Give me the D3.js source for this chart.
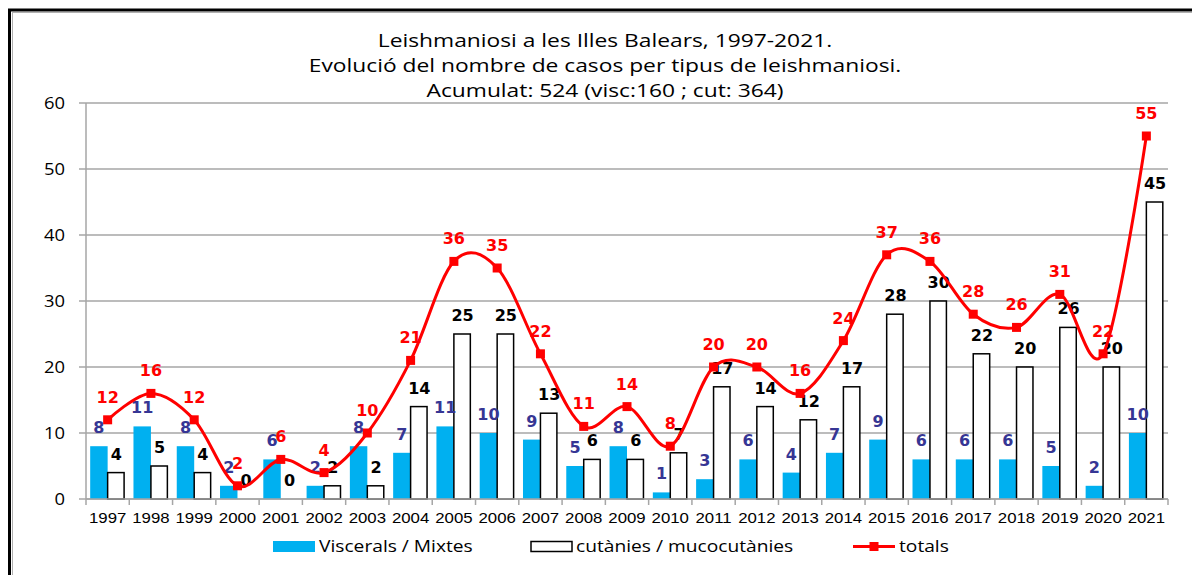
<!DOCTYPE html>
<html lang="ca">
<head>
  <meta charset="UTF-8">
  <title>Leishmaniosi a les Illes Balears, 1997-2021</title>
  <style>
    body {
      margin: 0;
      background-color: white;
      overflow: hidden;
    }

    .title {
      font-family: "Open Sans", sans-serif;
      font-size: 19px;
      fill: #000;
    }

    .ytick {
      font-family: "Open Sans", sans-serif;
      font-size: 16px;
      fill: #000;
    }

    .xtick {
      font-family: "Liberation Sans", Arial, sans-serif;
      font-size: 15px;
      fill: #000;
    }

    .val {
      font-family: "DejaVu Sans", Verdana, sans-serif;
      font-size: 16px;
      font-weight: bold;
    }

    .legend-text {
      font-family: "Open Sans", sans-serif;
      font-size: 16px;
      fill: #000;
    }
  </style>
</head>
<body>
  <script src="https://d3js.org/d3.v7.min.js"></script>
  <script>
    const width = 1192;
    const height = 575;

    // data
    const years = [1997, 1998, 1999, 2000, 2001, 2002, 2003, 2004, 2005, 2006, 2007, 2008, 2009,
                   2010, 2011, 2012, 2013, 2014, 2015, 2016, 2017, 2018, 2019, 2020, 2021];
    const viscerals = [8, 11, 8, 2, 6, 2, 8, 7, 11, 10, 9, 5, 8, 1, 3, 6, 4, 7, 9, 6, 6, 6, 5, 2, 10];
    const cutanies = [4, 5, 4, 0, 0, 2, 2, 14, 25, 25, 13, 6, 6, 7, 17, 14, 12, 17, 28, 30, 22, 20, 26, 20, 45];
    const totals = [12, 16, 12, 2, 6, 4, 10, 21, 36, 35, 22, 11, 14, 8, 20, 20, 16, 24, 37, 36, 28, 26, 31, 22, 55];
    const yTicks = [0, 10, 20, 30, 40, 50, 60];
    const titleLines = [
      "Leishmaniosi a les Illes Balears, 1997-2021.",
      "Evolució del nombre de casos per tipus de leishmaniosi.",
      "Acumulat: 524 (visc:160 ; cut: 364)"
    ];
    const legendItems = ["Viscerals / Mixtes", "cutànies / mucocutànies", "totals"];

    const blue = "#00b0f0";
    const red = "#ff0000";
    const viscColor = "#363694";
    const gridColor = "#a6a6a6";

    const plot = { left: 86, right: 1168, top: 103, bottom: 499 };

    // the original picture is a bit stretched sideways, so the texts are too
    function stretched(x, y, sx) {
      return "translate(" + x + "," + y + ") scale(" + sx + ",1)";
    }

    const svg = d3.select("body").append("svg")
      .attr("width", width)
      .attr("height", height);

    // outer frame
    svg.append("rect")
      .attr("x", 9.5).attr("y", 10)
      .attr("width", width + 20).attr("height", height + 20)
      .attr("fill", "none")
      .attr("stroke", "#000")
      .attr("stroke-width", 3);
    svg.append("rect")
      .attr("x", 12.5).attr("y", 12.5)
      .attr("width", width + 20).attr("height", height + 20)
      .attr("fill", "none")
      .attr("stroke", "#b0b0b0")
      .attr("stroke-width", 1);

    // title
    svg.append("g")
      .selectAll("text")
      .data(titleLines)
      .enter()
      .append("text")
      .attr("class", "title")
      .attr("transform", (d, i) => stretched(605, 47 + i * 25, 1.2))
      .attr("text-anchor", "middle")
      .text(d => d);

    const x = d3.scaleBand()
      .domain(years)
      .range([plot.left, plot.right]);

    const xInner = d3.scaleBand()
      .domain(["v", "c"])
      .range([0, x.bandwidth()])
      .paddingOuter(0.24);

    const y = d3.scaleLinear()
      .domain([0, 60])
      .range([plot.bottom, plot.top]);

    // gridlines + y ticks
    const grid = svg.append("g");
    grid.selectAll("line")
      .data(yTicks)
      .enter()
      .append("line")
      .attr("x1", plot.left - 7)
      .attr("x2", plot.right)
      .attr("y1", d => y(d))
      .attr("y2", d => y(d))
      .attr("stroke", gridColor)
      .attr("stroke-width", 1.5);

    grid.selectAll("text")
      .data(yTicks)
      .enter()
      .append("text")
      .attr("class", "ytick")
      .attr("transform", d => stretched(plot.left - 21, y(d), 1.15))
      .attr("dy", "0.36em")
      .attr("text-anchor", "end")
      .text(d => d);

    // y axis line
    svg.append("line")
      .attr("x1", plot.left).attr("x2", plot.left)
      .attr("y1", plot.top).attr("y2", plot.bottom)
      .attr("stroke", gridColor)
      .attr("stroke-width", 1.5);

    // bars
    const groups = svg.append("g")
      .selectAll("g")
      .data(years)
      .enter()
      .append("g")
      .attr("transform", d => "translate(" + x(d) + ",0)");

    groups.append("rect")
      .attr("x", xInner("v"))
      .attr("width", xInner.bandwidth())
      .attr("y", (d, i) => y(viscerals[i]))
      .attr("height", (d, i) => y(0) - y(viscerals[i]))
      .attr("fill", blue);

    groups.append("rect")
      .attr("x", xInner("c"))
      .attr("width", xInner.bandwidth() - 1)
      .attr("y", (d, i) => y(cutanies[i]))
      .attr("height", (d, i) => y(0) - y(cutanies[i]))
      .attr("fill", "white")
      .attr("stroke", "#000")
      .attr("stroke-width", 1.5);

    // x axis
    const xAxis = svg.append("g");
    xAxis.append("line")
      .attr("x1", plot.left).attr("x2", plot.right)
      .attr("y1", plot.bottom).attr("y2", plot.bottom)
      .attr("stroke", gridColor)
      .attr("stroke-width", 1.5);

    xAxis.selectAll(".tick")
      .data(years.concat(["end"]))
      .enter()
      .append("line")
      .attr("class", "tick")
      .attr("x1", (d, i) => plot.left + i * x.step())
      .attr("x2", (d, i) => plot.left + i * x.step())
      .attr("y1", plot.bottom)
      .attr("y2", plot.bottom + 6)
      .attr("stroke", gridColor)
      .attr("stroke-width", 1.5);

    xAxis.selectAll("text")
      .data(years)
      .enter()
      .append("text")
      .attr("class", "xtick")
      .attr("transform", d => stretched(x(d) + x.bandwidth() / 2, plot.bottom + 24, 1.12))
      .attr("text-anchor", "middle")
      .text(d => d);

    // totals line
    const cx = d => x(d) + x.bandwidth() / 2;
    const line = d3.line()
      .x(d => cx(d))
      .y((d, i) => y(totals[i]))
      .curve(d3.curveCardinal.tension(0));

    svg.append("path")
      .datum(years)
      .attr("d", line)
      .attr("fill", "none")
      .attr("stroke", red)
      .attr("stroke-width", 3);

    svg.append("g")
      .selectAll("rect")
      .data(years)
      .enter()
      .append("rect")
      .attr("x", d => cx(d) - 4.5)
      .attr("y", (d, i) => y(totals[i]) - 4.5)
      .attr("width", 9)
      .attr("height", 9)
      .attr("fill", red);

    // value labels
    groups.append("text")
      .attr("class", "val")
      .attr("x", xInner("v") + xInner.bandwidth() / 2)
      .attr("y", (d, i) => y(viscerals[i]) - 13)
      .attr("text-anchor", "middle")
      .attr("fill", viscColor)
      .text((d, i) => viscerals[i]);

    groups.append("text")
      .attr("class", "val")
      .attr("x", xInner("c") + xInner.bandwidth() / 2)
      .attr("y", (d, i) => y(cutanies[i]) - 13)
      .attr("text-anchor", "middle")
      .attr("fill", "#000")
      .text((d, i) => cutanies[i]);

    svg.append("g")
      .selectAll("text")
      .data(years)
      .enter()
      .append("text")
      .attr("class", "val")
      .attr("x", d => cx(d))
      .attr("y", (d, i) => y(totals[i]) - 17)
      .attr("text-anchor", "middle")
      .attr("fill", red)
      .text((d, i) => totals[i]);

    // legend
    const legend = svg.append("g");
    legend.append("rect")
      .attr("x", 273).attr("y", 541)
      .attr("width", 42).attr("height", 11)
      .attr("fill", blue);
    legend.append("text")
      .attr("class", "legend-text")
      .attr("transform", stretched(319, 552, 1.2))
      .text(legendItems[0]);

    legend.append("rect")
      .attr("x", 531).attr("y", 541.5)
      .attr("width", 41).attr("height", 10)
      .attr("fill", "white")
      .attr("stroke", "#000")
      .attr("stroke-width", 1.5);
    legend.append("text")
      .attr("class", "legend-text")
      .attr("transform", stretched(576, 552, 1.2))
      .text(legendItems[1]);

    legend.append("line")
      .attr("x1", 853).attr("x2", 895)
      .attr("y1", 546.5).attr("y2", 546.5)
      .attr("stroke", red)
      .attr("stroke-width", 3);
    legend.append("rect")
      .attr("x", 869.5).attr("y", 542)
      .attr("width", 9).attr("height", 9)
      .attr("fill", red);
    legend.append("text")
      .attr("class", "legend-text")
      .attr("transform", stretched(899, 552, 1.2))
      .text(legendItems[2]);
  </script>
</body>
</html>
